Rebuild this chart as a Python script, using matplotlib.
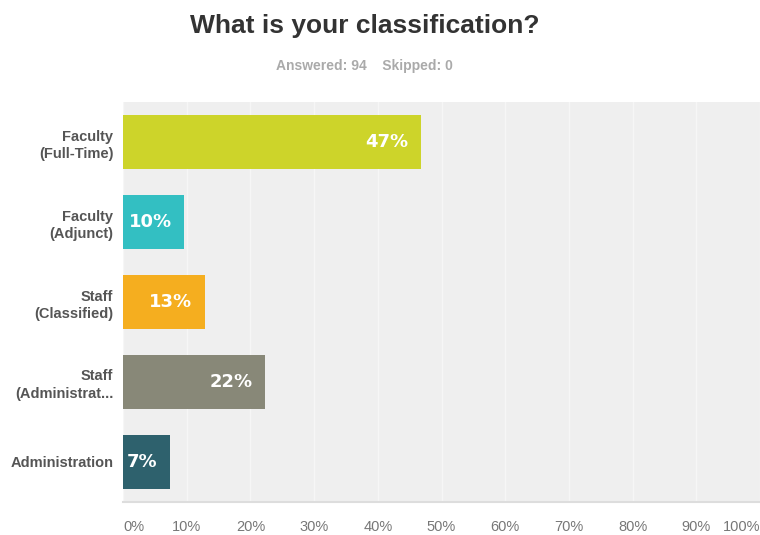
import numpy as np
import matplotlib.pyplot as plt

plt.rcParams['font.family'] = ['Liberation Sans', 'DejaVu Sans']

categories = ["Faculty\n(Full-Time)", "Faculty\n(Adjunct)", "Staff\n(Classified)",
              "Staff\n(Administrat...", "Administration"]
values = [46.8, 9.6, 12.8, 22.3, 7.4]
labels = ["47%", "10%", "13%", "22%", "7%"]
colors = ["#cdd42a", "#33bfc2", "#f5ae1f", "#888878", "#2e616d"]
ticks = np.arange(0, 101, 10)
tick_labels = [f"{t}%" for t in ticks]

fig = plt.figure(figsize=(7.6, 5.35), dpi=100)
ax = fig.add_axes([0.162, 0.062, 0.838, 0.747])
ax.set_facecolor("#efefef")

y = np.arange(len(categories))
ax.barh(y, values, height=0.67, color=colors, zorder=3)
for yi, v, lab in zip(y, values, labels):
    ax.annotate(lab, (v, yi), xytext=(-9, 0), textcoords="offset points",
                ha="right", va="center", color="white", fontsize=13,
                fontweight="bold", family="DejaVu Sans", zorder=4)

ax.set_xlim(0, 100)
ax.set_ylim(len(categories) - 0.5, -0.5)
ax.set_xticks(ticks)
ax.set_xticklabels(tick_labels, fontsize=10.5, color="#777777")
ax.get_xticklabels()[0].set_ha("left")
ax.get_xticklabels()[-1].set_ha("right")
ax.set_yticks(y)
ax.set_yticklabels(categories, fontsize=10.5, fontweight="bold", color="#555555",
                   linespacing=1.3)
ax.tick_params(axis="both", length=0)
ax.tick_params(axis="x", pad=13)
ax.tick_params(axis="y", pad=7)
ax.grid(axis="x", color="#f6f6f6", linewidth=1.0, zorder=1)
for s in ["top", "right", "left"]:
    ax.spines[s].set_visible(False)
ax.spines["bottom"].set_color("#dddddd")
ax.spines["bottom"].set_linewidth(1.5)

fig.text(0.48, 0.952, "What is your classification?", ha="center", va="center",
         fontsize=19, fontweight="bold", color="#333333")
fig.text(0.48, 0.877, "Answered: 94    Skipped: 0", ha="center", va="center",
         fontsize=10, fontweight="bold", color="#aaaaaa")

fig.savefig("out.png", dpi=100)
